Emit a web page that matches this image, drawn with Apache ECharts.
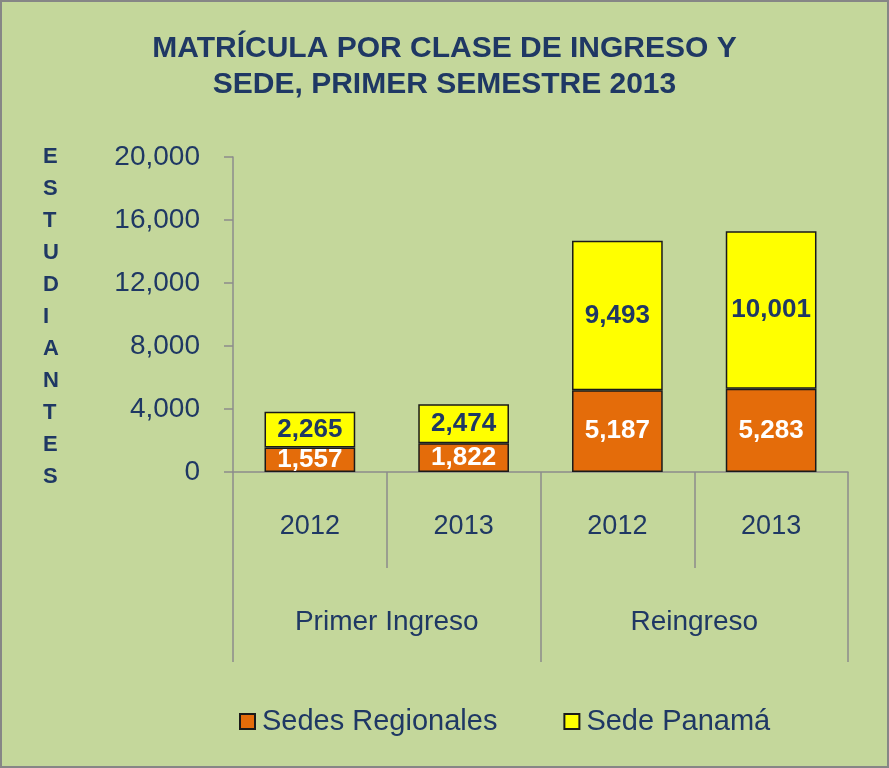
<!DOCTYPE html>
<html>
<head>
<meta charset="utf-8">
<script src="https://cdn.jsdelivr.net/npm/echarts@6/dist/echarts.min.js"></script>
<style>
  html, body { margin: 0; padding: 0; background: #c4d79b; }
  #chart { width: 889px; height: 768px; box-sizing: border-box; border: 2px solid #868686; }
</style>
</head>
<body>
<div id="chart"></div>
<script>
const years = ['2012', '2013', '2012', '2013']
const groups = ['Primer Ingreso', 'Reingreso']
const sedesRegionales = [1557, 1822, 5187, 5283]
const sedePanama = [2265, 2474, 9493, 10001]
const yAxisLetters = ['E', 'S', 'T', 'U', 'D', 'I', 'A', 'N', 'T', 'E', 'S']

const navy = '#1f3864'
const axisGray = '#8c8c8c'
const fmt = v => Number(v).toLocaleString('en-US')

var myChart = echarts.init(document.getElementById('chart'))

const option = {
  backgroundColor: '#c4d79b',
  animation: false,
  title: {
    text: 'MATRÍCULA POR CLASE DE INGRESO Y\nSEDE, PRIMER SEMESTRE 2013',
    left: 'center',
    top: 24,
    textStyle: {
      color: navy,
      fontFamily: 'Liberation Sans, Arial, sans-serif',
      fontWeight: 'bold',
      fontSize: 30,
      lineHeight: 36
    }
  },
  graphic: [{
    type: 'text',
    left: 41,
    top: 139,
    style: {
      text: yAxisLetters.join('\n'),
      fill: navy,
      font: 'bold 22px "Liberation Sans", Arial, sans-serif',
      lineHeight: 32,
      align: 'center'
    }
  }],
  legend: {
    left: 232,
    top: 700,
    itemWidth: 15,
    itemHeight: 15,
    itemGap: 66,
    icon: 'rect',
    textStyle: {
      color: navy,
      fontSize: 29,
      fontFamily: 'Liberation Sans, Arial, sans-serif',
      padding: [0, 0, 0, 2]
    },
    data: ['Sedes Regionales', 'Sede Panamá']
  },
  grid: { left: 231, right: 39, top: 155, bottom: 294 },
  xAxis: [
    {
      type: 'category',
      data: years,
      position: 'bottom',
      axisLine: { lineStyle: { color: axisGray, width: 1.5 } },
      axisTick: { show: true, length: 96, interval: 0, lineStyle: { color: axisGray, width: 1.5 } },
      axisLabel: {
        margin: 41,
        color: navy,
        fontSize: 27,
        fontFamily: 'Liberation Sans, Arial, sans-serif'
      }
    },
    {
      type: 'category',
      data: groups,
      position: 'bottom',
      axisLine: { show: false },
      axisTick: { show: true, length: 190, interval: 0, lineStyle: { color: axisGray, width: 1.5 } },
      axisLabel: {
        margin: 136,
        color: navy,
        fontSize: 28,
        fontFamily: 'Liberation Sans, Arial, sans-serif'
      }
    }
  ],
  yAxis: {
    type: 'value',
    min: 0,
    max: 20000,
    interval: 4000,
    axisLine: { show: true, lineStyle: { color: axisGray, width: 1.5 } },
    axisTick: { show: true, length: 9, lineStyle: { color: axisGray, width: 1.5 } },
    splitLine: { show: false },
    axisLabel: {
      margin: 33,
      color: navy,
      fontSize: 28,
      fontFamily: 'Liberation Sans, Arial, sans-serif',
      formatter: fmt
    }
  },
  series: [
    {
      name: 'Sedes Regionales',
      type: 'bar',
      stack: 'total',
      barWidth: '59%',
      data: sedesRegionales,
      itemStyle: { color: '#e46c0a', borderColor: '#1a1a1a', borderWidth: 1.5 },
      label: {
        show: true,
        position: 'inside',
        color: '#ffffff',
        fontWeight: 'bold',
        fontSize: 26,
        fontFamily: 'Liberation Sans, Arial, sans-serif',
        formatter: p => fmt(p.value)
      }
    },
    {
      name: 'Sede Panamá',
      type: 'bar',
      stack: 'total',
      barWidth: '59%',
      data: sedePanama,
      itemStyle: { color: '#ffff00', borderColor: '#1a1a1a', borderWidth: 1.5 },
      label: {
        show: true,
        position: 'inside',
        color: navy,
        fontWeight: 'bold',
        fontSize: 26,
        fontFamily: 'Liberation Sans, Arial, sans-serif',
        formatter: p => fmt(p.value)
      }
    }
  ]
}
option && myChart.setOption(option)
</script>
</body>
</html>
